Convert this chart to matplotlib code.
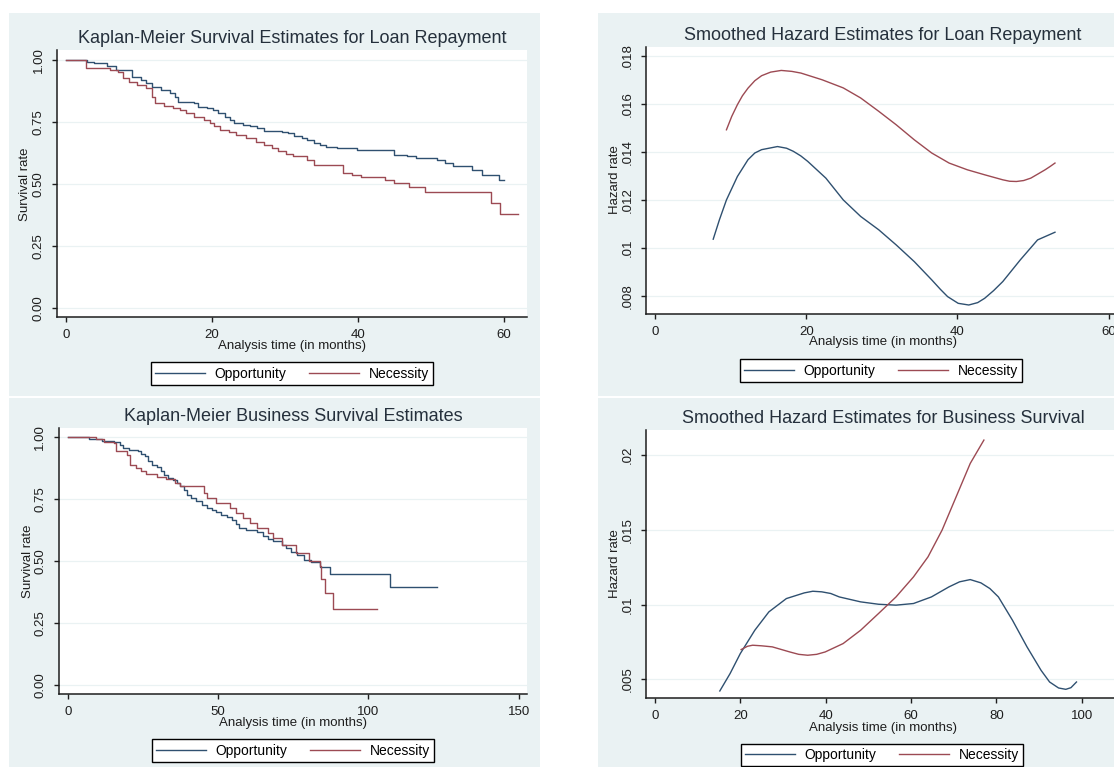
#!/usr/bin/env python3
# -*- coding: utf-8 -*-

import matplotlib
matplotlib.use("Agg")
from matplotlib import pyplot as plt
from matplotlib.lines import Line2D
from matplotlib.patches import Rectangle

# Kaplan-Meier, loan repayment (months, survival rate)
loan_opp_t = [0, 2.9, 3.9, 5.6, 6.9, 9.1, 10.3, 11, 11.8, 13, 14.2, 15, 15.4, 17.6, 18.1,
              19.3, 20.1, 20.8, 21.8, 22.5, 23, 24.2, 25.2, 26.2, 27.2, 29.6, 30.4, 31.3, 32.3, 33,
              34, 34.8, 35.7, 37.2, 39.9, 45, 46.8, 48, 50.9, 51.9, 53.1, 55.6, 57, 59.3, 60]
loan_opp_s = [1.0, .993, .987, .976, .96, .933, .919, .909, .89, .879, .866, .852, .832, .826, .812,
              .805, .799, .785, .772, .756, .745, .738, .732, .725, .715, .711, .705, .694, .685, .678,
              .664, .658, .651, .644, .638, .617, .611, .604, .597, .584, .574, .557, .537, .517, .517]
loan_nec_t = [0, 2.7, 5.1, 6.1, 7.1, 7.8, 8.6, 9.8, 11, 11.8, 12.2, 13.5, 14.7, 15.7, 16.4,
              17.6, 18.9, 19.8, 20.3, 21.1, 22.3, 23.3, 24.7, 26, 27.2, 28.2, 29.1, 30.1, 31.1, 33.1,
              34, 38, 39.2, 40.4, 43.8, 45, 47, 49.2, 58.3, 59.5, 62]
loan_nec_s = [1.0, .969, .966, .96, .953, .926, .913, .9, .886, .852, .826, .815, .805, .799, .785,
              .772, .758, .745, .732, .718, .711, .698, .685, .671, .658, .644, .631, .621, .611, .597,
              .577, .546, .537, .53, .517, .503, .486, .466, .423, .379, .379]

# Kaplan-Meier, business survival
bus_opp_t = [0, 7.1, 11.3, 15.5, 17.2, 18.4, 20.2, 23.2, 24.4, 25.6, 26.8, 27.9, 29.7, 30.9, 32.1,
             33.3, 35, 36.2, 37.4, 38.6, 39.8, 41, 42.8, 44.6, 46.4, 48.1, 49.3, 51.1, 52.9, 54.7,
             55.9, 57.1, 59.4, 63, 64.8, 66.6, 68.4, 71.3, 72.5, 74.3, 76.1, 78.5, 80.8, 83.8, 87.4,
             107.2, 123]
bus_opp_s = [1.0, .992, .985, .98, .969, .956, .946, .942, .933, .922, .902, .888, .878, .861, .848,
             .834, .828, .814, .801, .787, .767, .754, .74, .727, .713, .704, .696, .686, .677, .666,
             .649, .633, .626, .615, .602, .588, .579, .565, .552, .538, .525, .505, .494, .475, .448,
             .394, .394]
bus_nec_t = [0, 9.5, 11.9, 15.5, 16.1, 19.6, 20.8, 22.6, 24.4, 26.1, 29.7, 32.7, 35.7, 37.4, 45.2,
             46.4, 49.3, 54.1, 55.9, 58.2, 60.6, 63, 66.6, 68.3, 71.3, 76, 80.2, 83.8, 84.4, 85.6,
             88.2, 103]
bus_nec_s = [1.0, .992, .98, .976, .942, .929, .888, .875, .861, .851, .838, .83, .814, .801, .774,
             .754, .733, .713, .693, .673, .653, .633, .612, .592, .565, .532, .498, .48, .427, .373,
             .307, .307]

# smoothed hazards, loan repayment
hz_loan_opp_t = [7.7, 8.52, 9.45, 10.9, 12.3, 13.2, 14.1, 15.07, 16.2, 17.4, 18.3, 19.28, 20.2,
                 22.6, 24.9, 27.2, 29.6, 31.9, 34.3, 36.6, 37.76, 38.7, 40.1, 41.5, 42.68, 43.6,
                 44.78, 46.0, 48.3, 50.6, 52.9]
hz_loan_opp = [.01036, .01117, .0120, .01298, .01368, .01396, .01410, .01416, .01423, .01416, .01403,
               .01384, .01361, .01291, .01200, .01131, .01075, .01012, .00942, .00866, .00826, .00796,
               .00768, .00761, .00771, .00789, .00821, .00859, .00949, .01033, .01065]
hz_loan_nec_t = [9.45, 10.15, 10.9, 11.56, 12.3, 13.2, 14.1, 15.3, 16.7, 18.1, 19.3, 22.1, 24.9,
                 27.2, 29.6, 31.9, 34.3, 36.6, 38.9, 41.3, 43.6, 46.0, 46.9, 47.8, 48.76, 49.7,
                 50.63, 51.6, 52.27, 52.9]
hz_loan_nec = [.01493, .01549, .01598, .01635, .01667, .01698, .01719, .01734, .01741, .01737, .01730,
               .01702, .01668, .01626, .01570, .01514, .01451, .01396, .01354, .01326, .01305, .01284,
               .01278, .01277, .01281, .01291, .01308, .01326, .0134, .01354]

# smoothed hazards, business survival
hz_bus_opp_t = [15.2, 17.6, 20.0, 23.4, 26.7, 30.8, 35.0, 37.0, 39.1, 41.2, 43.2, 48.2, 52.4, 56.5,
                60.6, 64.8, 68.9, 71.4, 73.9, 76.4, 78.5, 80.5, 83.8, 87.2, 90.5, 92.5, 94.6, 96.3,
                97.5, 98.8]
hz_bus_opp = [.00422, .00538, .00672, .00828, .00951, .0104, .01078, .01089, .01085, .01074, .01051,
              .01018, .01002, .00996, .01007, .01051, .01118, .01152, .01167, .01145, .01107, .01051,
              .00895, .00717, .0056, .00482, .00442, .00433, .00444, .00482]
hz_bus_nec_t = [20.2, 21.7, 22.9, 25.0, 27.5, 31.6, 33.7, 35.8, 37.9, 39.9, 44.1, 48.2, 52.4, 56.5,
                60.6, 64.0, 67.3, 70.6, 73.9, 77.1]
hz_bus_nec = [.00699, .00721, .00728, .00724, .00717, .00683, .00667, .00661, .00667, .00683, .00739,
              .00828, .0094, .01051, .01185, .01319, .01498, .01721, .01944, .021]

groups = ["Opportunity", "Necessity"]

W, H = 1114, 767
BG = "#eaf2f3"
GRID = "#eaf2f3"
OPP = "#2f5070"
NEC = "#9c4a53"
INK = "#1e1e1e"
TITLE = "#25303c"


def fx(x):
    return x / W


def fy(y):
    return 1 - y / H


def add_axes(fig, left, top, right, bottom):
    return fig.add_axes([fx(left), fy(bottom), (right - left) / W, (bottom - top) / H])


def style(ax, xlim, ylim, xticks, yticks, ylabels):
    ax.set_xlim(xlim)
    ax.set_ylim(ylim)
    ax.set_xticks(xticks)
    ax.set_yticks(yticks)
    ax.set_yticklabels(ylabels)
    for side in ("top", "right"):
        ax.spines[side].set_visible(False)
    for side in ("left", "bottom"):
        ax.spines[side].set_linewidth(1.1)
        ax.spines[side].set_color(INK)
    ax.tick_params(direction="out", length=3.8, width=1.0, colors=INK, labelsize=9.5, pad=5)
    ax.tick_params(axis="y", labelrotation=90)
    for lab in ax.get_yticklabels():
        lab.set_va("center")
    ax.grid(axis="y", color=GRID, lw=0.9)
    ax.set_axisbelow(True)


def panel_text(fig, title, title_xy, ylab, ylab_xy, xlab_xy, leg_xy):
    fig.text(fx(title_xy[0]), fy(title_xy[1]), title, ha="center", va="baseline",
             fontsize=13, color=TITLE)
    fig.text(fx(ylab_xy[0]), fy(ylab_xy[1]), ylab, ha="center", va="center", rotation=90,
             fontsize=9.5, color=INK)
    fig.text(fx(xlab_xy[0]), fy(xlab_xy[1]), "Analysis time (in months)", ha="center", va="center",
             fontsize=9.5, color=INK)
    handles = [Line2D([], [], color=OPP, lw=1.0), Line2D([], [], color=NEC, lw=1.0)]
    leg = fig.legend(handles, groups, loc="center", bbox_to_anchor=(fx(leg_xy[0]), fy(leg_xy[1])),
                     ncol=2, fontsize=10, frameon=True, fancybox=False, framealpha=1,
                     edgecolor="black", handlelength=3.6, handletextpad=0.7, columnspacing=1.6,
                     borderpad=0.3)
    leg.get_frame().set_linewidth(1.0)


def main():
    plt.rcParams["font.family"] = ["Liberation Sans", "DejaVu Sans"]
    fig = plt.figure(figsize=(W / 100, H / 100), dpi=100)

    # grey-blue graph regions behind each panel
    for left, top, right, bottom in [(9, 13, 540, 396), (598, 13, 1114, 396),
                                     (9, 398, 540, 767), (598, 398, 1114, 767)]:
        fig.patches.append(Rectangle((fx(left), fy(bottom)), (right - left) / W, (bottom - top) / H,
                                     transform=fig.transFigure, facecolor=BG, edgecolor="none",
                                     zorder=-10))

    km_ticks = [0, 0.25, 0.5, 0.75, 1.0]
    km_labels = ["0.00", "0.25", "0.50", "0.75", "1.00"]

    # top left: KM loan repayment
    ax = add_axes(fig, 57, 50, 527, 317)
    ax.step(loan_opp_t, loan_opp_s, where="post", color=OPP, lw=1.0)
    ax.step(loan_nec_t, loan_nec_s, where="post", color=NEC, lw=1.0)
    style(ax, (-1.23, 63.2), (-0.036, 1.04), [0, 20, 40, 60], km_ticks, km_labels)
    panel_text(fig, "Kaplan-Meier Survival Estimates for Loan Repayment", (292, 43),
               "Survival rate", (25, 184), (292, 346), (292, 373.5))

    # bottom left: KM business survival
    ax = add_axes(fig, 58.5, 428, 527, 694)
    ax.step(bus_opp_t, bus_opp_s, where="post", color=OPP, lw=1.0)
    ax.step(bus_nec_t, bus_nec_s, where="post", color=NEC, lw=1.0)
    style(ax, (-3.1, 152.8), (-0.036, 1.036), [0, 50, 100, 150], km_ticks, km_labels)
    panel_text(fig, "Kaplan-Meier Business Survival Estimates", (293, 421),
               "Survival rate", (28, 561), (293, 723), (293, 750.5))

    # top right: hazard loan repayment
    ax = add_axes(fig, 646, 47, 1120, 314)
    ax.plot(hz_loan_opp_t, hz_loan_opp, color=OPP, lw=1.0)
    ax.plot(hz_loan_nec_t, hz_loan_nec, color=NEC, lw=1.0)
    style(ax, (-1.19, 61.5), (0.007234, 0.018389), [0, 20, 40, 60],
          [.008, .01, .012, .014, .016, .018], [".008", ".01", ".012", ".014", ".016", ".018"])
    panel_text(fig, "Smoothed Hazard Estimates for Loan Repayment", (883, 40),
               "Hazard rate", (615, 180), (883, 342.5), (881, 370.5))

    # bottom right: hazard business survival
    ax = add_axes(fig, 646, 430, 1120, 698)
    ax.plot(hz_bus_opp_t, hz_bus_opp, color=OPP, lw=1.0)
    ax.plot(hz_bus_nec_t, hz_bus_nec, color=NEC, lw=1.0)
    style(ax, (-2.1, 109.0), (0.00375, 0.021674), [0, 20, 40, 60, 80, 100],
          [.005, .01, .015, .02], [".005", ".01", ".015", ".02"])
    panel_text(fig, "Smoothed Hazard Estimates for Business Survival", (883, 423),
               "Hazard rate", (615, 564), (883, 727.5), (882, 754.7))

    fig.savefig("out.png", dpi=100, facecolor="white")


if __name__ == "__main__":
    main()
